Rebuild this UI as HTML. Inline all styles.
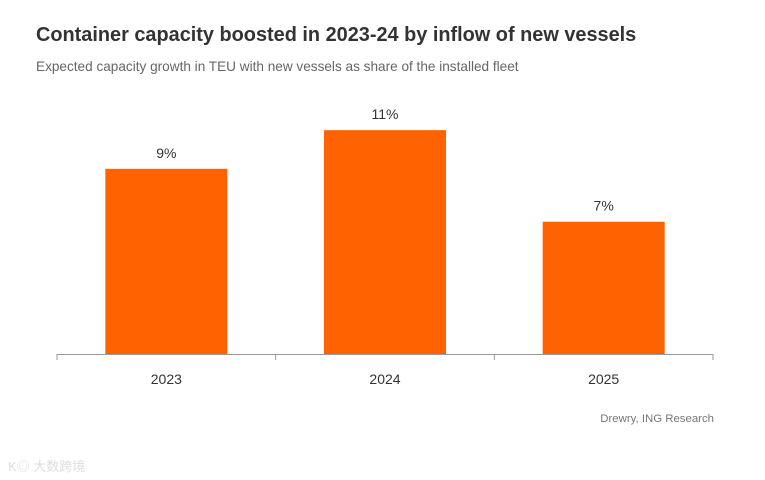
<!DOCTYPE html>
<html><head><meta charset="utf-8"><style>
html,body{margin:0;padding:0;background:#fff;}
body{width:765px;height:480px;position:relative;overflow:hidden;font-family:"Liberation Sans","Noto Sans CJK SC",sans-serif;}
#title{position:absolute;left:36px;top:24px;font-size:19.9px;font-weight:bold;color:#333;}
#subtitle{position:absolute;left:36px;top:59px;font-size:13.6px;color:#666;}
#source{position:absolute;right:51px;top:413px;font-size:11.4px;color:#777;}
#wm{position:absolute;left:8px;top:456px;font-size:13px;color:#ddd;}
svg{position:absolute;left:0;top:0;}
</style></head><body>
<div id="title">Container capacity boosted in 2023-24 by inflow of new vessels</div>
<div id="subtitle">Expected capacity growth in TEU with new vessels as share of the installed fleet</div>
<div id="source">Drewry, ING Research</div>
<div id="wm">K◎ 大数跨境</div>
<svg id="chart" width="765" height="480"></svg>
<script>
const categories = ["2023","2024","2025"];
const values = [9.1, 11.0, 6.5];
const valueLabels = ["9%","11%","7%"];

const svg = document.getElementById('chart');
const NS = 'http://www.w3.org/2000/svg';
const x0 = 57, x1 = 713, baseY = 354, pxPer = 20.35;
const band = (x1 - x0) / categories.length;
const barW = 122;
const xPos = i => x0 + band * i + (band - barW) / 2;
const yPos = v => baseY - v * pxPer;

categories.forEach((c, i) => {
  const r = document.createElementNS(NS, 'rect');
  r.setAttribute('x', xPos(i));
  r.setAttribute('y', yPos(values[i]));
  r.setAttribute('width', barW);
  r.setAttribute('height', baseY - yPos(values[i]));
  r.setAttribute('fill', '#ff6200');
  
  
  svg.appendChild(r);

  const t = document.createElementNS(NS, 'text');
  t.setAttribute('x', xPos(i) + barW / 2);
  t.setAttribute('y', yPos(values[i]) - 11);
  t.setAttribute('text-anchor', 'middle');
  t.setAttribute('font-size', '14');
  t.setAttribute('fill', '#333');
  t.textContent = valueLabels[i];
  
  
  svg.appendChild(t);

  const l = document.createElementNS(NS, 'text');
  l.setAttribute('x', xPos(i) + barW / 2);
  l.setAttribute('y', 384);
  l.setAttribute('text-anchor', 'middle');
  l.setAttribute('font-size', '14');
  l.setAttribute('fill', '#333');
  l.textContent = c;
  
  
  svg.appendChild(l);
});

const axis = document.createElementNS(NS, 'line');
axis.setAttribute('x1', x0); axis.setAttribute('x2', x1);
axis.setAttribute('y1', baseY + 0.5); axis.setAttribute('y2', baseY + 0.5);
axis.setAttribute('stroke', '#999');


svg.appendChild(axis);

for (let i = 0; i <= categories.length; i++) {
  const tk = document.createElementNS(NS, 'line');
  const x = x0 + band * i;
  tk.setAttribute('x1', x); tk.setAttribute('x2', x);
  tk.setAttribute('y1', baseY); tk.setAttribute('y2', baseY + 6);
  tk.setAttribute('stroke', '#999');
  
  
  svg.appendChild(tk);
}
</script>
</body></html>
